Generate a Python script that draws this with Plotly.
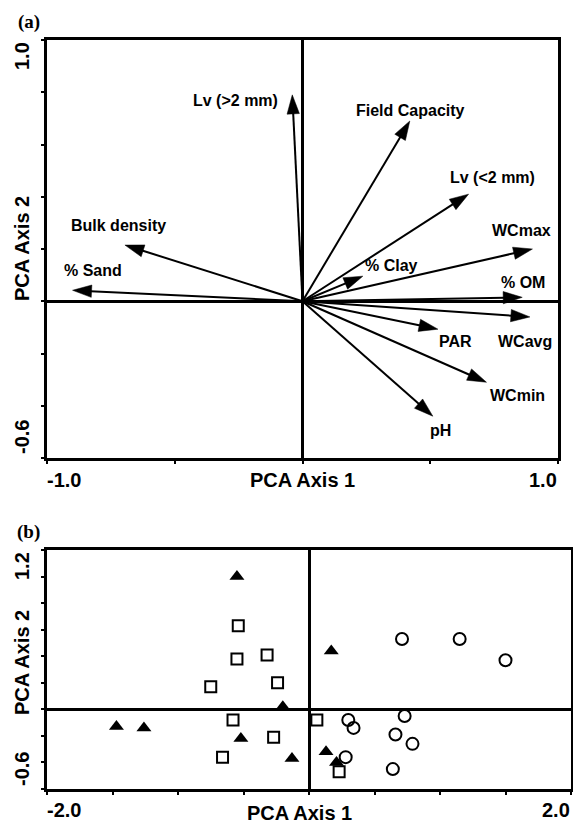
import plotly.graph_objects as go

# ---------- Panel (a): PCA loadings ----------
var_names = ["Lv (>2 mm)", "Field Capacity", "Lv (<2 mm)", "WCmax", "% Clay", "% OM",
             "WCavg", "PAR", "WCmin", "pH", "Bulk density", "% Sand"]
load_x = [-0.04, 0.42, 0.65, 0.90, 0.236, 0.86, 0.89, 0.53, 0.72, 0.51, -0.695, -0.90]
load_y = [0.79, 0.69, 0.41, 0.20, 0.096, 0.015, -0.06, -0.107, -0.31, -0.44, 0.215, 0.042]
# label anchor positions (data coords)
lab_x = [-0.264, 0.421, 0.742, 0.859, 0.350, 0.863, 0.871, 0.597, 0.840, 0.542, -0.722, -0.820]
lab_y = [0.770, 0.732, 0.475, 0.272, 0.138, 0.073, -0.153, -0.153, -0.360, -0.494, 0.291, 0.119]

# ---------- Panel (b): PCA scores ----------
tri_x = [-0.55, -1.47, -1.26, -0.20, -0.52, -0.13, 0.17, 0.13, 0.21]
tri_y = [1.00, -0.13, -0.14, 0.02, -0.22, -0.37, 0.44, -0.32, -0.40]
sq_x = [-0.54, -0.55, -0.32, -0.75, -0.24, -0.58, -0.27, -0.66, 0.06, 0.23]
sq_y = [0.63, 0.38, 0.41, 0.17, 0.20, -0.08, -0.21, -0.36, -0.08, -0.47]
ci_x = [0.71, 1.15, 1.50, 0.30, 0.34, 0.73, 0.66, 0.79, 0.28, 0.64]
ci_y = [0.53, 0.53, 0.37, -0.08, -0.14, -0.05, -0.19, -0.26, -0.36, -0.45]

W, H = 573, 823
SANS = "Liberation Sans, Arial, sans-serif"
SERIF = "Liberation Serif, Times New Roman, serif"

fig = go.Figure()

for i, name in enumerate(var_names):
    fig.add_trace(go.Scatter(
        x=[0, load_x[i]], y=[0, load_y[i]], mode="lines+markers",
        line=dict(color="black", width=2),
        marker=dict(symbol="arrow", size=[0, 20], angleref="previous", opacity=1,
                    color="black", line=dict(width=0.5, color="black")),
        xaxis="x", yaxis="y", showlegend=False, hoverinfo="skip"))

fig.add_trace(go.Scatter(x=tri_x, y=tri_y, mode="markers", xaxis="x2", yaxis="y2",
                         marker=dict(symbol="triangle-up", size=13, color="black"),
                         showlegend=False))
fig.add_trace(go.Scatter(x=sq_x, y=sq_y, mode="markers", xaxis="x2", yaxis="y2",
                         marker=dict(symbol="square-open", size=11, color="black",
                                     line=dict(width=2, color="black")),
                         showlegend=False))
fig.add_trace(go.Scatter(x=ci_x, y=ci_y, mode="markers", xaxis="x2", yaxis="y2",
                         marker=dict(symbol="circle-open", size=12, color="black",
                                     line=dict(width=2, color="black")),
                         showlegend=False))

def axis_common(**kw):
    d = dict(showgrid=False, zeroline=True, zerolinecolor="black", zerolinewidth=2.5,
             showline=True, linecolor="black", linewidth=2.5, mirror=True,
             ticks="outside", ticklen=3, tickwidth=2, tickcolor="black",
             showticklabels=False, fixedrange=True)
    d.update(kw)
    return d

fig.update_layout(
    width=W, height=H, margin=dict(l=0, r=0, t=0, b=0),
    paper_bgcolor="white", plot_bgcolor="white",
    xaxis=axis_common(domain=[47 / W, 558 / W], range=[-1.0, 1.0], dtick=0.5, anchor="y"),
    yaxis=axis_common(domain=[1 - 458 / H, 1 - 40 / H], range=[-0.6, 1.0], dtick=0.2, anchor="x"),
    xaxis2=axis_common(domain=[47 / W, 571 / W], range=[-2.0, 2.0], dtick=0.5, anchor="y2"),
    yaxis2=axis_common(domain=[1 - 789 / H, 1 - 550 / H], range=[-0.6, 1.2], dtick=0.2, anchor="x2"),
)

ann = []
lab_font = dict(family=SANS, size=16, color="black", weight="bold")
for i, name in enumerate(var_names):
    ann.append(dict(x=lab_x[i], y=lab_y[i], xref="x", yref="y", text=name,
                    showarrow=False, font=lab_font, xanchor="center", yanchor="middle"))

ax_font = dict(family=SANS, size=20, color="black", weight="bold")
tag_font = dict(family=SERIF, size=19, color="black", weight="bold")

def p(x, y, text, xa="center", ya="middle", angle=0, font=ax_font):
    ann.append(dict(x=x / W, y=1 - y / H, xref="paper", yref="paper", text=text,
                    showarrow=False, font=font, xanchor=xa, yanchor=ya, textangle=angle))

# panel (a) texts
p(16, 22, "(a)", xa="left", font=tag_font)
p(303, 480, "PCA Axis 1")
p(45, 480, "-1.0", xa="left")
p(559, 480, "1.0", xa="right")
p(22, 249, "PCA Axis 2", angle=-90)
p(22, 40, "1.0", ya="top", angle=-90)
p(22, 456, "-0.6", ya="bottom", angle=-90)

# panel (b) texts
p(15, 532, "(b)", xa="left", font=tag_font)
p(299, 813, "PCA Axis 1")
p(45, 810, "-2.0", xa="left")
p(572, 810, "2.0", xa="right")
p(22, 663, "PCA Axis 2", angle=-90)
p(22, 550, "1.2", ya="top", angle=-90)
p(22, 788, "-0.6", ya="bottom", angle=-90)

fig.update_layout(annotations=ann)
fig.write_html("out.html")
